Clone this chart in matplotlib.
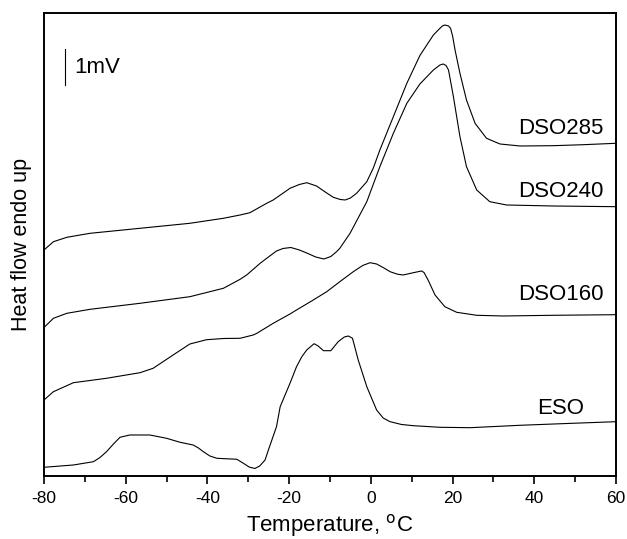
import matplotlib
matplotlib.use("Agg")
from matplotlib import pyplot as plt
from matplotlib.ticker import MultipleLocator

# temperature (C) / heat flow (arbitrary units, curves offset vertically)
t_285 = [-80, -77.7, -74.4, -68.7, -56.5, -44.3, -36.1, -32.0, -29.6, -25.5, -23.9, -19.8, -17.5,
         -15.7, -13.3, -11, -9.2, -7.5, -6.3, -5, -3.5, -1.0, 0.6, 2.2, 5.5, 8.8, 12.0, 15.3, 16.9,
         17.5, 18.1, 19.0, 19.5, 20.0, 20.6, 21.8, 23.4, 25.5, 28.3, 31.6, 36.5, 44.6, 52, 60]
v_285 = [226, 234.3, 238.7, 242.7, 247.7, 252.7, 257.7, 261, 263.3, 272.7, 276, 287.7, 291.5,
         293.3, 290, 283.5, 278.7, 276.5, 276, 278, 282.7, 294.3, 308, 326, 359.3, 392.7, 420.5,
         441, 447.7, 450, 451, 450, 447.7, 440, 426, 402.7, 376, 352.7, 337.7, 332, 330, 330.3,
         331.3, 332.7]

t_240 = [-80, -77.7, -74.4, -68.7, -56.5, -44.3, -36.1, -32.0, -30.4, -27.1, -25.5, -23.1, -21.5,
         -19.6, -17.5, -15.7, -13.5, -11.5, -9.8, -8.4, -7.6, -5.1, -1.0, 2.2, 5.5, 8.8, 12.0,
         15.3, 16.9, 17.7, 18.4, 19.0, 20.2, 21.8, 23.4, 25.9, 29.1, 33.2, 44.6, 60]
v_240 = [148.5, 157.7, 162.7, 166.7, 172.7, 179.3, 187.7, 196.7, 201, 212.7, 217.7, 225, 227.5,
         228.5, 226, 223, 219, 217, 219.5, 224.3, 227.7, 242.7, 274.3, 309.3, 342.7, 372.7, 392,
         406, 411, 412, 410.5, 406, 379.3, 339.3, 309.3, 286, 274.3, 271, 270, 269.3]

t_160 = [-80, -77.7, -72.8, -64.7, -56.5, -53.3, -48.4, -44.3, -40.2, -36, -32.0, -28.8, -27.9,
         -23.9, -19.8, -18.2, -14.5, -10.8, -7.6, -4.3, -2, -0.2, 1.4, 3, 4.7, 6.5, 7.9, 10.4,
         12.4, 13.0, 14.0, 15.7, 18.1, 21.0, 25.9, 32.4, 44.6, 60]
v_160 = [76, 84.3, 93.3, 97.7, 103.3, 107.7, 121, 132, 136.3, 137.5, 137.7, 141, 142.7, 152.7,
         162, 166, 175, 184.3, 194.3, 204.3, 210.5, 213.3, 212, 208.5, 204.3, 201.8, 201, 203.3,
         205, 203.5, 196, 181, 169.3, 163.7, 160.7, 160, 160.7, 161.3]

t_eso = [-80, -72.8, -67.9, -66.3, -64.7, -63, -61.4, -59.0, -54.1, -50, -46.7, -43.5, -42.2,
         -41.0, -39.4, -37.7, -32.8, -31.2, -29.8, -28.4, -27.2, -25.9, -25.0, -23.1, -22.2,
         -19.8, -18.2, -16.9, -15.7, -13.9, -12.9, -11.6, -9.8, -8.0, -6.5, -5.5, -4.5, -3.1,
         -1.0, 1.4, 3, 4.7, 7.5, 10.4, 16.9, 24.3, 36.5, 48, 60]
v_eso = [8.7, 11, 14.3, 18.5, 24.3, 32, 38.7, 41, 41, 37.7, 33.7, 31, 28, 24.3, 20, 17.7, 16.7,
         12.7, 9, 7.5, 10, 16, 27, 49.3, 69.3, 92.7, 109.3, 119.3, 126, 132.3, 130, 125.3, 125.3,
         134.3, 139, 140, 137.7, 116, 89.3, 66, 58, 54.3, 51.5, 50.3, 48.7, 48.3, 50.7, 52.5, 54.3]

curves = [(t_285, v_285), (t_240, v_240), (t_160, v_160), (t_eso, v_eso)]
labels = ["DSO285", "DSO240", "DSO160", "ESO"]
label_y = [347.7, 284.3, 181, 67]

plt.rcParams['font.family'] = ['Liberation Sans', 'DejaVu Sans']
plt.rcParams['axes.unicode_minus'] = False

fig = plt.figure(figsize=(6.27, 5.39), dpi=100)
ax = fig.add_axes([0.0702, 0.1169, 0.9123, 0.859])

for t, v in curves:
    ax.plot(t, v, color="black", lw=0.8)

for name, y in zip(labels, label_y):
    ax.text(46.5, y, name, ha="center", va="center", fontsize=16)

# 1mV scale bar
ax.plot([-74.9, -74.9], [391, 427], color="black", lw=0.8)
ax.text(-72.7, 408, "1mV", ha="left", va="center", fontsize=16)

ax.set_xlim(-80, 60)
ax.set_ylim(0, 463)
ax.xaxis.set_major_locator(MultipleLocator(20))
ax.xaxis.set_minor_locator(MultipleLocator(10))
ax.tick_params(axis="x", which="both", direction="out", top=False, labelsize=12.5, pad=5)
ax.tick_params(axis="x", which="major", length=6, width=1.2)
ax.tick_params(axis="x", which="minor", length=4, width=1.2)
ax.set_yticks([])
for s in ax.spines.values():
    s.set_linewidth(1.4)

ax.set_xlabel("Temperature, $^{\\mathrm{o}}$C", fontsize=16, labelpad=4)
ax.set_ylabel("Heat flow endo up", fontsize=15.5, labelpad=9)

fig.savefig("out.png", dpi=100)
